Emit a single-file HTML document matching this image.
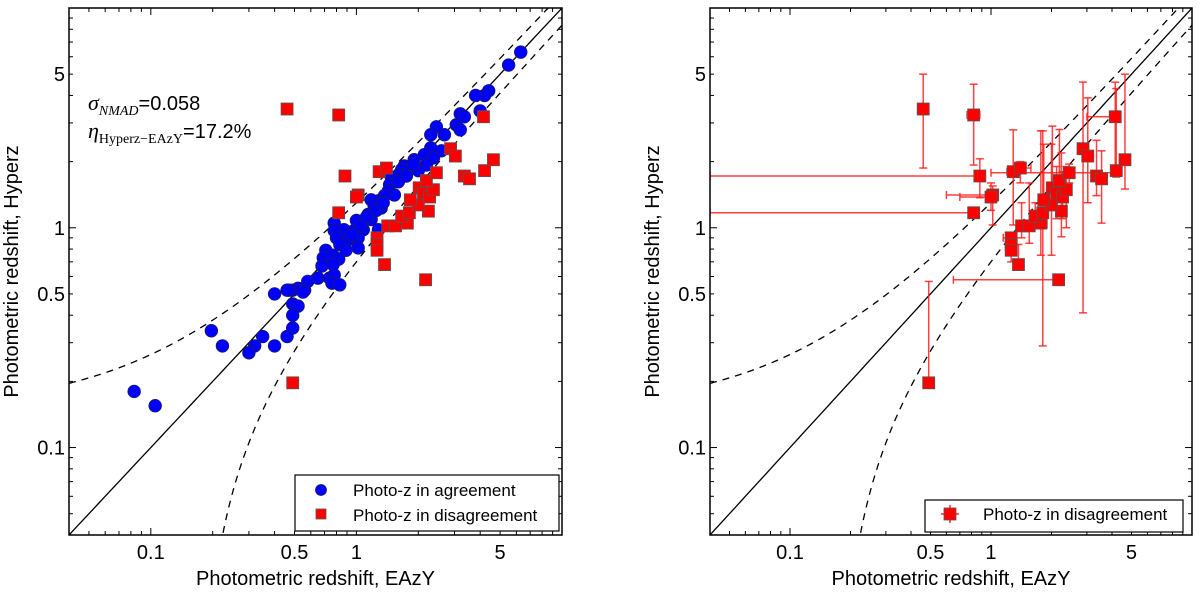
<!DOCTYPE html>
<html><head><meta charset="utf-8">
<style>
html,body{margin:0;padding:0;background:#fff;}
svg{display:block;font-family:"Liberation Sans",sans-serif;}
</style></head>
<body>
<svg id="chart" width="1200" height="592" viewBox="0 0 1200 592" xmlns="http://www.w3.org/2000/svg"></svg>
<script>
// ---- data ----
const agreeX=[6.3,5.5,4.4,4.2,3.8,4.0,3.2,3.35,3.06,3.2,2.45,2.3,2.68,2.3,2.59,2.14,2.37,1.91,2.19,1.71,1.66,1.81,1.6,2.0,1.48,1.45,1.43,1.53,1.37,1.29,1.18,1.22,1.32,1.14,1.18,0.78,0.87,1.0,1.08,0.97,1.28,0.78,0.80,0.91,1.02,0.83,0.89,1.02,0.71,0.69,0.77,0.82,0.77,0.68,0.65,0.74,0.78,0.76,0.83,0.58,0.56,0.52,0.49,0.47,0.55,0.40,0.46,0.49,0.52,0.49,0.49,0.46,0.40,0.35,0.32,0.30,0.197,0.223,0.083,0.105,1.25,1.12,1.05,0.95,1.35,1.6,1.75,1.9];
const agreeY=[6.3,5.5,4.2,4.0,4.0,3.4,3.3,3.2,2.94,2.79,2.88,2.65,2.65,2.31,2.24,2.15,2.08,2.04,1.93,1.91,1.84,1.84,1.74,1.82,1.69,1.57,1.47,1.41,1.40,1.33,1.34,1.26,1.23,1.15,1.09,1.05,0.98,1.08,0.98,0.97,0.98,0.97,0.90,0.88,0.90,0.84,0.79,0.81,0.79,0.73,0.75,0.72,0.68,0.67,0.59,0.59,0.61,0.56,0.55,0.57,0.52,0.53,0.52,0.52,0.51,0.50,0.52,0.45,0.44,0.40,0.35,0.32,0.29,0.32,0.29,0.27,0.34,0.29,0.18,0.155,1.2,1.12,1.02,0.93,1.3,1.62,1.72,1.95];
const disX=[0.46,0.82,0.88,0.82,1.02,1.0,1.29,1.40,1.26,1.26,1.26,1.37,2.17,0.49,1.42,1.55,1.77,1.66,1.81,2.24,2.0,1.83,2.02,2.12,2.27,2.37,2.19,2.45,2.87,3.03,3.35,3.55,4.15,4.2,4.64];
const disY=[3.47,3.26,1.72,1.17,1.41,1.38,1.80,1.87,0.90,0.84,0.79,0.68,0.58,0.197,1.02,1.02,1.05,1.13,1.17,1.19,1.27,1.34,1.52,1.44,1.38,1.49,1.64,1.78,2.29,2.12,1.72,1.67,3.2,1.82,2.04];
const disYlo=[1.87,1.93,1.37,1.12,1.03,1.2,1.03,1.6,0.85,0.80,0.70,0.68,0.55,0.197,0.9,0.85,0.75,1.0,0.29,0.91,0.75,1.0,1.2,1.1,1.1,1.0,1.4,1.6,0.41,1.3,1.4,1.05,1.8,1.7,1.5];
const disYhi=[5.0,4.5,2.06,1.22,1.55,1.6,2.79,2.0,0.95,0.88,0.84,0.84,0.61,0.57,1.3,1.6,2.76,1.3,2.76,2.19,2.4,2.4,2.9,1.9,1.8,1.9,2.8,1.95,4.6,3.9,2.5,2.24,4.6,4.3,5.0];
const disXlo=[0.45,0.76,0.04,0.04,0.6,0.7,1.2,1.3,1.15,1.2,1.2,1.3,0.65,0.47,1.35,1.45,1.65,1.55,1.7,2.1,1.9,1.75,1.9,2.0,2.15,2.25,2.05,1.0,2.7,2.9,3.2,3.4,3.0,4.0,4.4];
const disXhi=[0.47,0.88,0.88,0.82,1.02,1.0,1.3,1.58,1.3,1.3,1.3,1.4,2.17,0.51,1.5,1.65,1.9,1.75,1.9,2.35,2.1,1.9,2.1,2.2,2.4,2.5,2.3,4.2,3.0,3.15,3.5,3.7,4.15,4.4,4.9];
const tickMajor=[0.1,1];
const tickMinor=[0.04,0.05,0.06,0.07,0.08,0.09,0.2,0.3,0.4,0.5,0.6,0.7,0.8,0.9,2,3,4,5,6,7,8,9];
const tickLabelVals=[0.1,0.5,1,5];
const tickLabels=["0.1","0.5","1","5"];
const domainMin=0.04, domainMax=10;

const NS="http://www.w3.org/2000/svg";
const svg=document.getElementById('chart');
function mk(tag,attrs,parent){const e=document.createElementNS(NS,tag);for(const k in attrs)e.setAttribute(k,attrs[k]);(parent||svg).appendChild(e);return e;}

function drawPanel(P,name,showAgree,showErr){
  const lx=v=>P.x0+(Math.log10(v)-Math.log10(domainMin))/(Math.log10(domainMax)-Math.log10(domainMin))*(P.x1-P.x0);
  const ly=v=>P.y1-(Math.log10(v)-Math.log10(domainMin))/(Math.log10(domainMax)-Math.log10(domainMin))*(P.y1-P.y0);
  const g=mk('g',{});
  
  
  const defs=mk('clipPath',{id:'clip-'+name},g);
  mk('rect',{x:P.x0,y:P.y0,width:P.x1-P.x0,height:P.y1-P.y0},defs);
  const plot=mk('g',{'clip-path':'url(#clip-'+name+')'},g);
  
  
  const N=200;let d1='',d2='',d3='';
  for(let i=0;i<=N;i++){const x=Math.pow(10,Math.log10(domainMin)+i/N*(Math.log10(domainMax)-Math.log10(domainMin)));
    d1+=(i?'L':'M')+lx(x).toFixed(2)+','+ly(x).toFixed(2);
    d2+=(i?'L':'M')+lx(x).toFixed(2)+','+ly(x+0.15*(1+x)).toFixed(2);}
  let first=true;
  for(let i=0;i<=N*2;i++){const x=Math.pow(10,Math.log10(0.18)+i/(2*N)*(Math.log10(domainMax)-Math.log10(0.18)));const y=x-0.15*(1+x);if(y<=0.02)continue;
    d3+=(first?'M':'L')+lx(x).toFixed(2)+','+ly(y).toFixed(2);first=false;}
  const one=mk('path',{d:d1,fill:'none',stroke:'#000','stroke-width':1.3},plot);
  
  
  const up=mk('path',{d:d2,fill:'none',stroke:'#000','stroke-width':1.3,'stroke-dasharray':'7,6'},plot);
  
  
  const lo=mk('path',{d:d3,fill:'none',stroke:'#000','stroke-width':1.3,'stroke-dasharray':'7,6'},plot);
  
  
  if(showAgree){
    for(let i=0;i<agreeX.length;i++){
      const c=mk('circle',{cx:lx(agreeX[i]),cy:ly(agreeY[i]),r:6.3,fill:'#0000ff',stroke:'#1a1a66','stroke-width':0.8},plot);
      
      
    }
  }
  if(showErr){
    const eg=mk('g',{stroke:'#ff2020','stroke-width':1.5,'stroke-opacity':0.85},plot);
    
    
    for(let i=0;i<disX.length;i++){
      const cx=lx(disX[i]),cy=ly(disY[i]);
      const a=ly(disYlo[i]),b=ly(disYhi[i]),l=lx(disXlo[i]),r=lx(disXhi[i]);
      mk('line',{x1:cx,y1:a,x2:cx,y2:b},eg);
      mk('line',{x1:cx-4,y1:a,x2:cx+4,y2:a},eg);
      mk('line',{x1:cx-4,y1:b,x2:cx+4,y2:b},eg);
      mk('line',{x1:l,y1:cy,x2:r,y2:cy},eg);
      mk('line',{x1:l,y1:cy-4,x2:l,y2:cy+4},eg);
      mk('line',{x1:r,y1:cy-4,x2:r,y2:cy+4},eg);
    }
  }
  for(let i=0;i<disX.length;i++){
    const s=mk('rect',{x:lx(disX[i])-6,y:ly(disY[i])-6,width:12,height:12,fill:'#ff0000',stroke:'#555','stroke-width':0.8},plot);
    
    
  }
  const fr=mk('rect',{x:P.x0,y:P.y0,width:P.x1-P.x0,height:P.y1-P.y0,fill:'none',stroke:'#000','stroke-width':1.5},g);
  
  
  const tg=mk('g',{stroke:'#000','stroke-width':1},g);
  
  
  const allT=tickMajor.map(v=>[v,7]).concat(tickMinor.map(v=>[v,4]));
  allT.forEach(([v,L])=>{
    const x=lx(v),y=ly(v);
    mk('line',{x1:x,y1:P.y1,x2:x,y2:P.y1-L},tg);mk('line',{x1:x,y1:P.y0,x2:x,y2:P.y0+L},tg);
    mk('line',{x1:P.x0,y1:y,x2:P.x0+L,y2:y},tg);mk('line',{x1:P.x1,y1:y,x2:P.x1-L,y2:y},tg);
  });
  tickLabelVals.forEach((v,i)=>{
    const tx=mk('text',{x:lx(v),y:P.y1+24,'text-anchor':'middle','font-size':20},g);tx.textContent=tickLabels[i];
    
    
    const ty=mk('text',{x:P.x0-4,y:ly(v)+7,'text-anchor':'end','font-size':20},g);ty.textContent=tickLabels[i];
    
    
  });
  const xt=mk('text',{x:(P.x0+P.x1)/2,y:585,'text-anchor':'middle','font-size':20},g);xt.textContent='Photometric redshift, EAzY';
  
  
  const yx=P.x0-51;const yc=(P.y0+P.y1)/2;
  const yt=mk('text',{x:yx,y:yc,'text-anchor':'middle','font-size':20,transform:'rotate(-90 '+yx+' '+yc+')'},g);yt.textContent='Photometric redshift, Hyperz';
  
  
}
drawPanel({x0:69,x1:562,y0:8,y1:535},'left',true,false);
drawPanel({x0:710,x1:1192,y0:8,y1:535},'right',false,true);
</script>
<script>
(function(){
const NS="http://www.w3.org/2000/svg";const svg=document.getElementById('chart');
function mk(tag,attrs,parent){const e=document.createElementNS(NS,tag);for(const k in attrs)e.setAttribute(k,attrs[k]);(parent||svg).appendChild(e);return e;}
const a1=mk('text',{x:88,y:110,'font-size':20});


a1.innerHTML='<tspan font-family="Liberation Serif" font-style="italic" font-size="22">σ</tspan><tspan font-family="Liberation Serif" font-style="italic" font-size="14" dy="5">NMAD</tspan><tspan dy="-5">=0.058</tspan>';
const a2=mk('text',{x:88,y:138,'font-size':20});


a2.innerHTML='<tspan font-family="Liberation Serif" font-style="italic" font-size="22">η</tspan><tspan font-family="Liberation Serif" font-size="14" dy="5">Hyperz−EAzY</tspan><tspan dy="-5">=17.2%</tspan>';
const lg=mk('g',{});


mk('rect',{x:295,y:475,width:264,height:56,fill:'#fff',stroke:'#000','stroke-width':1.2},lg);
mk('circle',{cx:321,cy:490,r:5.5,fill:'#0000ff',stroke:'#1a1a66','stroke-width':0.8},lg);
const t1=mk('text',{x:353,y:496,'font-size':17},lg);t1.textContent='Photo-z in agreement';


mk('rect',{x:316,y:509,width:10,height:10,fill:'#ff0000',stroke:'#555','stroke-width':0.8},lg);
const t2=mk('text',{x:353,y:521,'font-size':17},lg);t2.textContent='Photo-z in disagreement';


const rg=mk('g',{});


mk('rect',{x:925,y:500,width:258,height:32,fill:'#fff',stroke:'#000','stroke-width':1.2},rg);
mk('line',{x1:950,y1:505,x2:950,y2:523,stroke:'#ff2020','stroke-width':1.5},rg);
mk('line',{x1:941,y1:514,x2:959,y2:514,stroke:'#ff2020','stroke-width':1.5},rg);
mk('rect',{x:944,y:508,width:12,height:12,fill:'#ff0000',stroke:'#555','stroke-width':0.8},rg);
const t3=mk('text',{x:983,y:520,'font-size':17},rg);t3.textContent='Photo-z in disagreement';


})();
</script>
</body></html>
